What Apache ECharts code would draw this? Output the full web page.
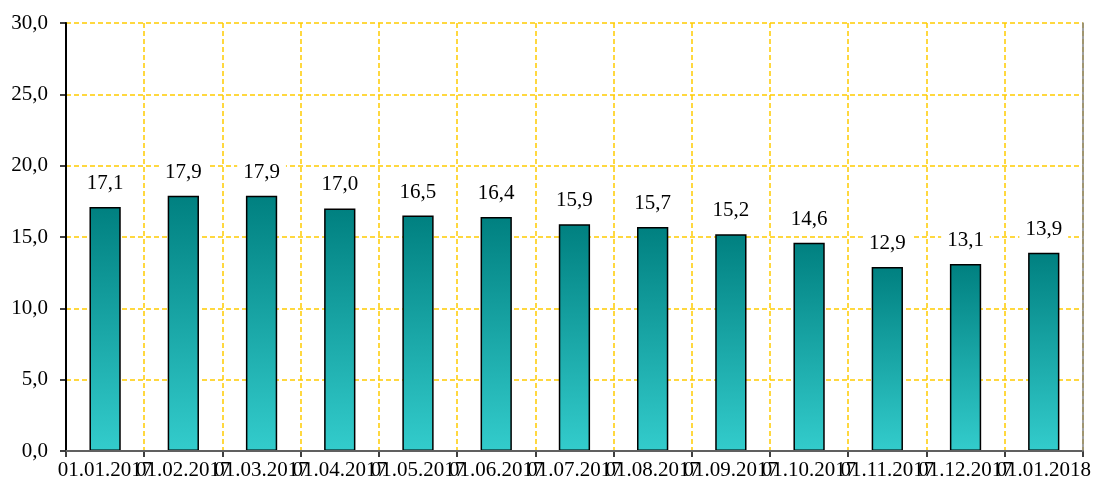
<!DOCTYPE html>
<html>
<head>
<meta charset="utf-8">
<script src="https://cdn.jsdelivr.net/npm/echarts@6/dist/echarts.min.js"></script>
<style>
    html, body { margin: 0; padding: 0; background: #fff; }
    #chartDiv { width: 1094px; height: 490px; }
</style>
</head>
<body>
<div id="chartDiv"></div>
<script>
// 数据
var dates = ["01.01.2017", "01.02.2017", "01.03.2017", "01.04.2017", "01.05.2017", "01.06.2017",
    "01.07.2017", "01.08.2017", "01.09.2017", "01.10.2017", "01.11.2017", "01.12.2017", "01.01.2018"];
var values = [17.1, 17.9, 17.9, 17.0, 16.5, 16.4, 15.9, 15.7, 15.2, 14.6, 12.9, 13.1, 13.9];

var fontFamily = "'Liberation Serif', 'Times New Roman', serif";

function commaFmt(v) {
    return Number(v).toFixed(1).replace('.', ',');
}

var textStyle = {
    color: '#000',
    fontFamily: fontFamily,
    fontSize: 21,
    letterSpacing: 1.5
};

var chart = echarts.init(document.getElementById('chartDiv'));
var option = {
    animation: false,
    grid: {left: 66, right: 11, top: 23, bottom: 39},
    xAxis: [{
        type: 'category',
        data: dates,
        boundaryGap: true,
        axisLine: {lineStyle: {color: '#000', width: 2}},
        axisTick: {show: true, length: 6, lineStyle: {color: '#000', width: 1.5}},
        axisLabel: Object.assign({
            interval: 0,
            hideOverlap: false,
            margin: 9
        }, textStyle),
        splitLine: {show: true, lineStyle: {color: '#FFCC00', type: [5, 3], width: 1.5}}
    }, {
        // 上边框
        type: 'category',
        position: 'top',
        data: dates,
        z: 5,
        axisLine: {lineStyle: {color: '#808080', width: 1.5}},
        axisTick: {show: false},
        axisLabel: {show: false},
        splitLine: {show: false}
    }],
    yAxis: [{
        type: 'value',
        min: 0,
        max: 30,
        interval: 5,
        axisLine: {show: true, lineStyle: {color: '#000', width: 2}},
        axisTick: {show: true, length: 6, lineStyle: {color: '#000', width: 1.5}},
        axisLabel: Object.assign({
            margin: 18,
            formatter: commaFmt
        }, textStyle),
        splitLine: {show: true, lineStyle: {color: '#FFCC00', type: [5, 3], width: 1.5}}
    }, {
        // 右边框
        type: 'value',
        position: 'right',
        min: 0,
        max: 30,
        interval: 5,
        z: 5,
        axisLine: {show: true, lineStyle: {color: '#808080', width: 1.5}},
        axisTick: {show: false},
        axisLabel: {show: false},
        splitLine: {show: false}
    }],
    series: [{
        type: 'bar',
        data: values,
        barWidth: '40%',
        itemStyle: {
            borderColor: '#000',
            borderWidth: 1.5,
            color: new echarts.graphic.LinearGradient(0, 0, 0, 1, [
                {offset: 0, color: '#008080'},
                {offset: 1, color: '#33CCCC'}
            ])
        },
        label: Object.assign({
            show: true,
            position: 'top',
            distance: 12,
            backgroundColor: '#fff',
            padding: [1, 6],
            formatter: function (p) { return commaFmt(p.value); }
        }, textStyle)
    }]
};
chart.setOption(option);
</script>
</body>
</html>
